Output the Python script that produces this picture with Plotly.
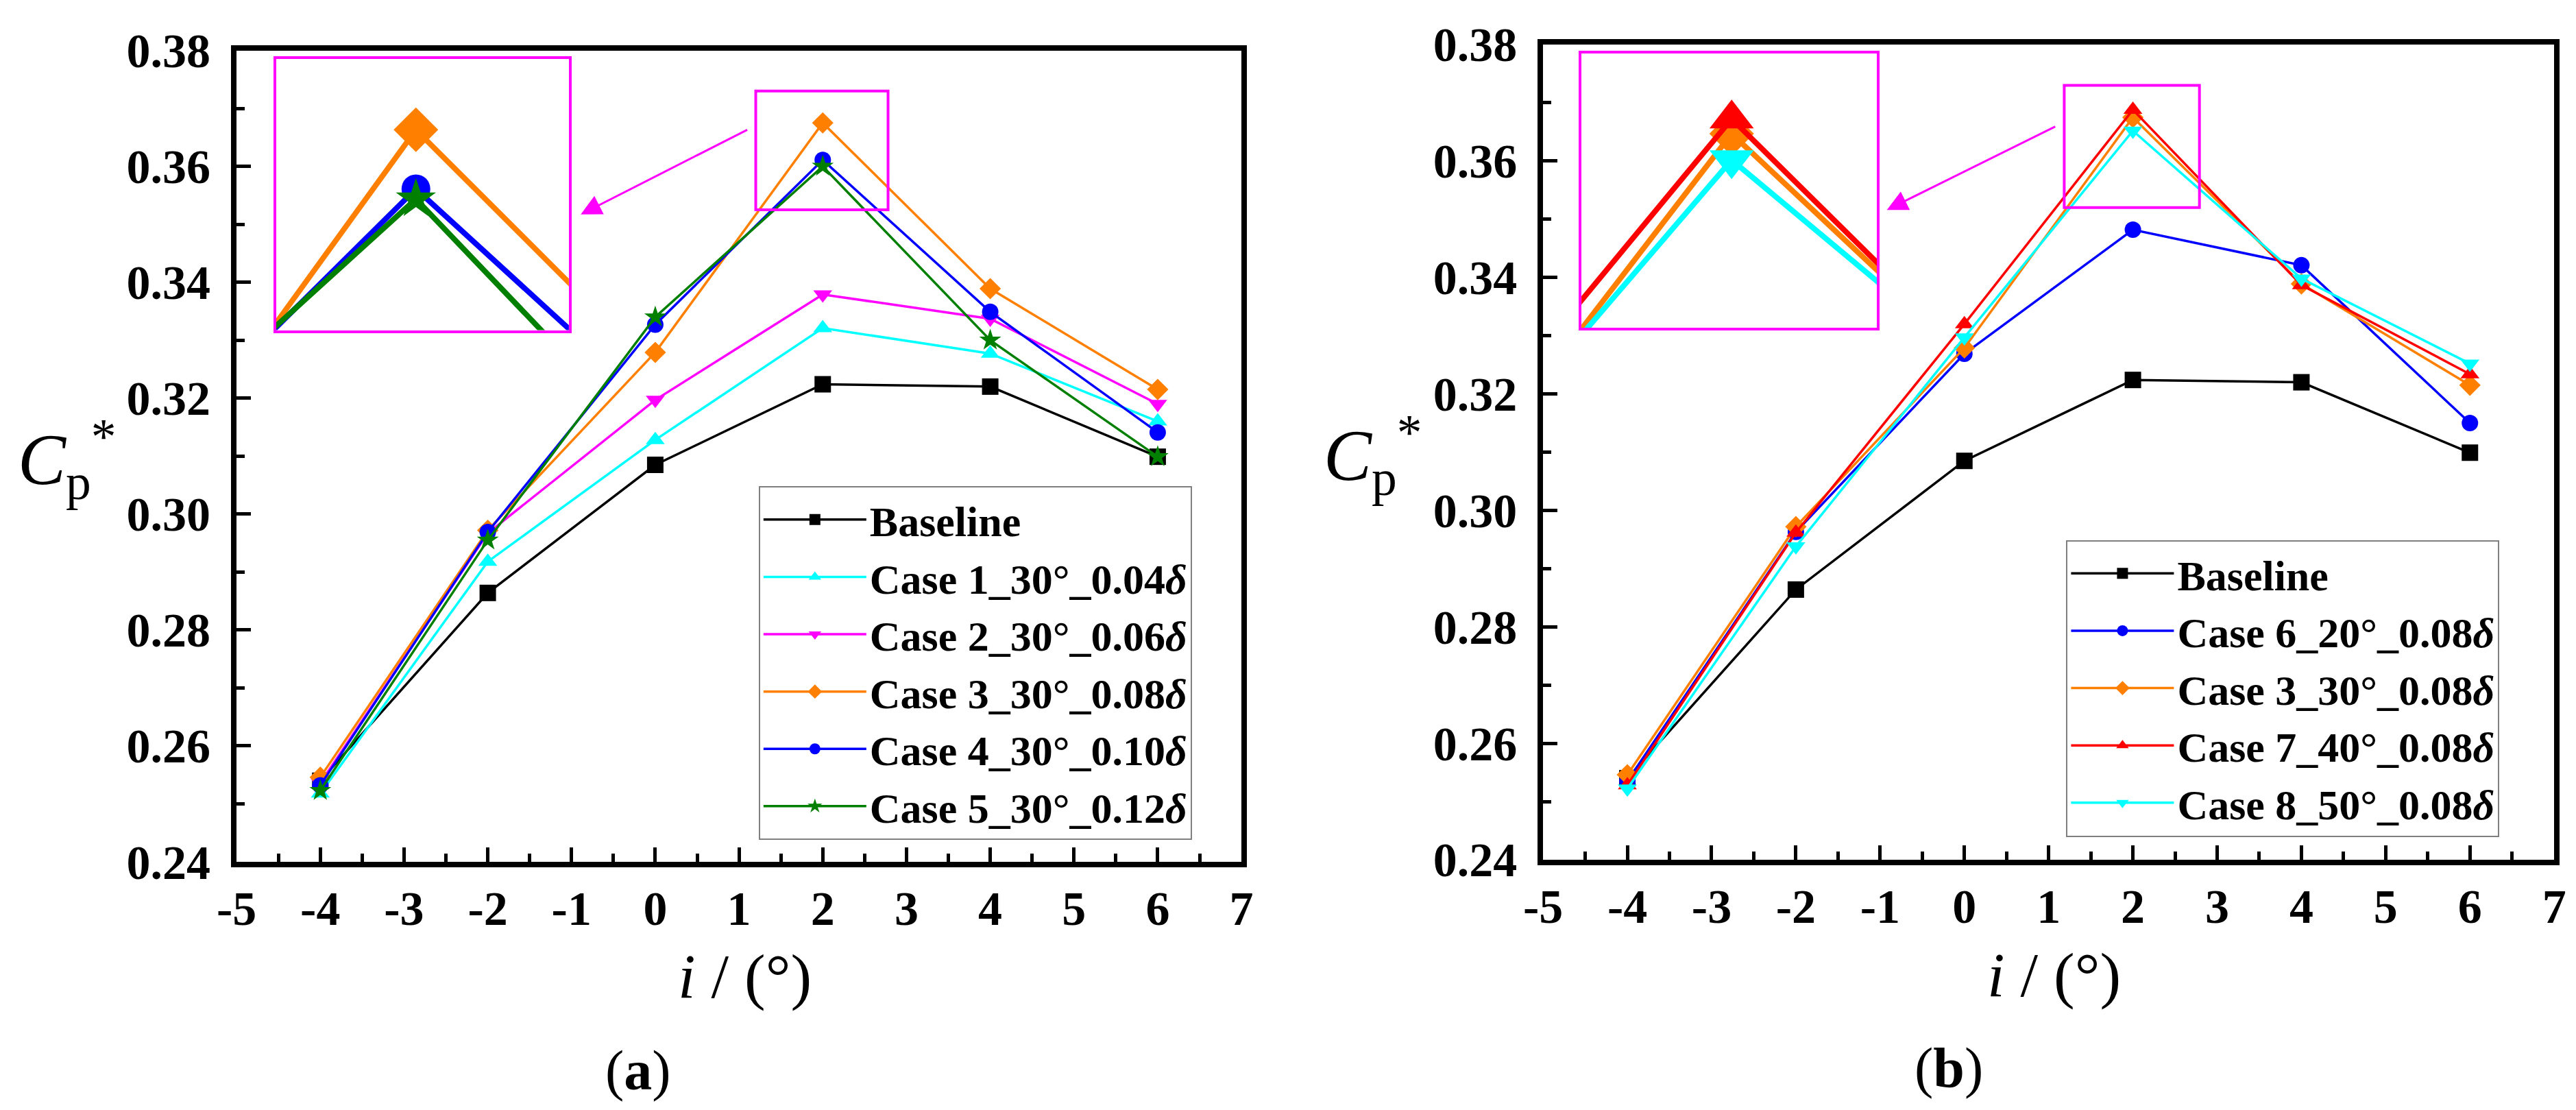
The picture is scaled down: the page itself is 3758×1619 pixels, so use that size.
import plotly.graph_objects as go

# Incidence angles (deg)
incidence = [-4, -2, 0, 2, 4, 6]

# (a) effect of the gap size at 30 deg
baseline = [0.2540, 0.2864, 0.3085, 0.3224, 0.3220, 0.3099]
case1 = [0.2518, 0.2918, 0.3128, 0.3321, 0.3277, 0.3160]
case2 = [0.2536, 0.2967, 0.3197, 0.3379, 0.3337, 0.3190]
case3 = [0.2546, 0.2972, 0.3279, 0.3675, 0.3389, 0.3215]
case4 = [0.2532, 0.2969, 0.3327, 0.3611, 0.3349, 0.3141]
case5 = [0.2523, 0.2955, 0.3340, 0.3600, 0.3300, 0.3099]

# (b) effect of the angle at 0.08 delta
case6 = [0.2535, 0.2963, 0.3269, 0.3482, 0.3421, 0.3150]
case7 = [0.2528, 0.2962, 0.3320, 0.3688, 0.3387, 0.3234]
case8 = [0.2522, 0.2938, 0.3297, 0.3652, 0.3398, 0.3252]

names_a = ['Baseline', 'Case 1_30°_0.04<i>δ</i>', 'Case 2_30°_0.06<i>δ</i>',
           'Case 3_30°_0.08<i>δ</i>', 'Case 4_30°_0.10<i>δ</i>', 'Case 5_30°_0.12<i>δ</i>']
names_b = ['Baseline', 'Case 6_20°_0.08<i>δ</i>', 'Case 3_30°_0.08<i>δ</i>',
           'Case 7_40°_0.08<i>δ</i>', 'Case 8_50°_0.08<i>δ</i>']

x_ticks = list(range(-5, 8))
x_ticktext = [str(v) for v in x_ticks]   # plain hyphen like the original
y_ticks = [0.24, 0.26, 0.28, 0.30, 0.32, 0.34, 0.36, 0.38]

BLACK, CYAN, MAGENTA = '#000000', '#00FFFF', '#FF00FF'
ORANGE, BLUE, GREEN, RED = '#FF7F00', '#0000FF', '#007F00', '#FF0000'
FONT = 'Liberation Serif'

series_a = [(baseline, BLACK, 'square'), (case1, CYAN, 'triangle-up'),
            (case2, MAGENTA, 'triangle-down'), (case3, ORANGE, 'diamond'),
            (case4, BLUE, 'circle'), (case5, GREEN, 'star')]
series_b = [(baseline, BLACK, 'square'), (case6, BLUE, 'circle'),
            (case3, ORANGE, 'diamond'), (case7, RED, 'triangle-up'),
            (case8, CYAN, 'triangle-down')]

fig = go.Figure()

for (vals, col, sym), nm in zip(series_a, names_a):
    fig.add_trace(go.Scatter(x=incidence, y=vals, name='<b>' + nm + '</b>', mode='lines+markers',
                             line=dict(color=col, width=3.5),
                             marker=dict(symbol=sym, color=col, size=24),
                             xaxis='x', yaxis='y', legend='legend'))

for (vals, col, sym), nm in zip(series_b, names_b):
    fig.add_trace(go.Scatter(x=incidence, y=vals, name='<b>' + nm + '</b>', mode='lines+markers',
                             line=dict(color=col, width=3.5),
                             marker=dict(symbol=sym, color=col, size=24),
                             xaxis='x2', yaxis='y2', legend='legend2'))

# magnified insets around i = 2
inset_sizes = {'diamond': 50, 'circle': 42, 'star': 44, 'triangle-up': 56, 'triangle-down': 56}
for vals, col, sym in series_a[3:]:
    fig.add_trace(go.Scatter(x=incidence, y=vals, mode='lines+markers', showlegend=False,
                             line=dict(color=col, width=8),
                             marker=dict(symbol=sym, color=col, size=inset_sizes[sym]),
                             xaxis='x3', yaxis='y3'))
for vals, col, sym in [series_b[2], series_b[3], series_b[4]]:
    fig.add_trace(go.Scatter(x=incidence, y=vals, mode='lines+markers', showlegend=False,
                             line=dict(color=col, width=8),
                             marker=dict(symbol=sym, color=col, size=inset_sizes[sym]),
                             xaxis='x4', yaxis='y4'))

tick_font = dict(family=FONT, size=70, color='black', weight='bold')


def main_x(domain, anchor):
    return dict(domain=domain, anchor=anchor, range=[-5, 7], tickvals=x_ticks, ticktext=x_ticktext,
                showline=True, linewidth=8, linecolor='black', mirror=True,
                ticks='inside', ticklen=21, tickwidth=5, tickcolor='black',
                minor=dict(ticks='inside', ticklen=12, tickwidth=5, dtick=0.5, tickcolor='black'),
                showgrid=False, zeroline=False, tickfont=tick_font, ticklabelstandoff=0,
                automargin=False)


def main_y(domain, anchor):
    return dict(domain=domain, anchor=anchor, range=[0.24, 0.38], tickvals=y_ticks,
                tickformat='.2f', showline=True, linewidth=8, linecolor='black', mirror=True,
                ticks='inside', ticklen=21, tickwidth=5, tickcolor='black',
                minor=dict(ticks='inside', ticklen=12, tickwidth=5, dtick=0.01, tickcolor='black'),
                showgrid=False, zeroline=False, tickfont=tick_font, ticklabelstandoff=16,
                automargin=False)


def inset_axis(domain, anchor, rng):
    return dict(domain=domain, anchor=anchor, range=rng, showticklabels=False, ticks='',
                showgrid=False, zeroline=False, showline=True, linewidth=4,
                linecolor=MAGENTA, mirror=True, automargin=False)


legend_style = dict(font=dict(family=FONT, size=62, color='black'), bgcolor='white',
                    bordercolor='#7f7f7f', borderwidth=2, xanchor='left', yanchor='top',
                    itemwidth=150, tracegroupgap=0)

fig.update_layout(
    width=3758, height=1619,
    margin=dict(l=0, r=0, t=0, b=0),
    plot_bgcolor='white', paper_bgcolor='white',
    font=dict(family=FONT, color='black'),
    xaxis=main_x([0.0897, 0.4798], 'y'),
    yaxis=main_y([0.2285, 0.9595], 'x'),
    xaxis2=main_x([0.5969, 0.9894], 'y2'),
    yaxis2=main_y([0.2304, 0.9648], 'x2'),
    xaxis3=inset_axis([0.1051, 0.2187], 'y3', [0.944, 3.156]),
    yaxis3=inset_axis([0.7075, 0.9521], 'x3', [0.3458, 0.3752]),
    xaxis4=inset_axis([0.6118, 0.7265], 'y4', [1.136, 2.836]),
    yaxis4=inset_axis([0.7097, 0.9565], 'x4', [0.3505, 0.3745]),
    legend=dict(x=0.2924, y=0.567, **legend_style),
    legend2=dict(x=0.800, y=0.5185, **legend_style),
    showlegend=True,
)

# zoom boxes on the main plots
fig.add_shape(type='rect', xref='x', yref='y', x0=1.2, x1=2.78, y0=0.3525, y1=0.3730,
              line=dict(color=MAGENTA, width=4))
fig.add_shape(type='rect', xref='x2', yref='y2', x0=1.185, x1=2.79, y0=0.3520, y1=0.3730,
              line=dict(color=MAGENTA, width=4))

# arrows pointing to the insets
fig.add_annotation(xref='x', yref='y', axref='x', ayref='y', x=-0.89, y=0.3517,
                   ax=1.11, ay=0.3664, showarrow=True, arrowhead=2, arrowsize=2,
                   arrowwidth=3, arrowcolor=MAGENTA, text='')
fig.add_annotation(xref='x2', yref='y2', axref='x2', ayref='y2', x=-0.92, y=0.3516,
                   ax=1.09, ay=0.3660, showarrow=True, arrowhead=2, arrowsize=2,
                   arrowwidth=3, arrowcolor=MAGENTA, text='')

# axis titles and panel labels
ytitle = '<i>C</i><sub>p</sub><sup>*</sup>'
xtitle = '<i>i</i> / (°)'
for xc, yc in [(90, 662), (1995, 656)]:
    fig.add_annotation(xref='paper', yref='paper', x=xc / 3758, y=1 - yc / 1619, text=ytitle,
                       showarrow=False, xanchor='center', yanchor='middle',
                       font=dict(family=FONT, size=105, color='black'))
for xc, yc in [(1078, 1416), (2988, 1414)]:
    fig.add_annotation(xref='paper', yref='paper', x=xc / 3758, y=1 - yc / 1619, text=xtitle,
                       showarrow=False, xanchor='center', yanchor='middle',
                       font=dict(family=FONT, size=92, color='black'))
for xc, yc, lab in [(923, 1553, '(<b>a</b>)'), (2835, 1549, '(<b>b</b>)')]:
    fig.add_annotation(xref='paper', yref='paper', x=xc / 3758, y=1 - yc / 1619, text=lab,
                       showarrow=False, xanchor='center', yanchor='middle',
                       font=dict(family=FONT, size=82, color='black'))

fig.write_html("out.html")
